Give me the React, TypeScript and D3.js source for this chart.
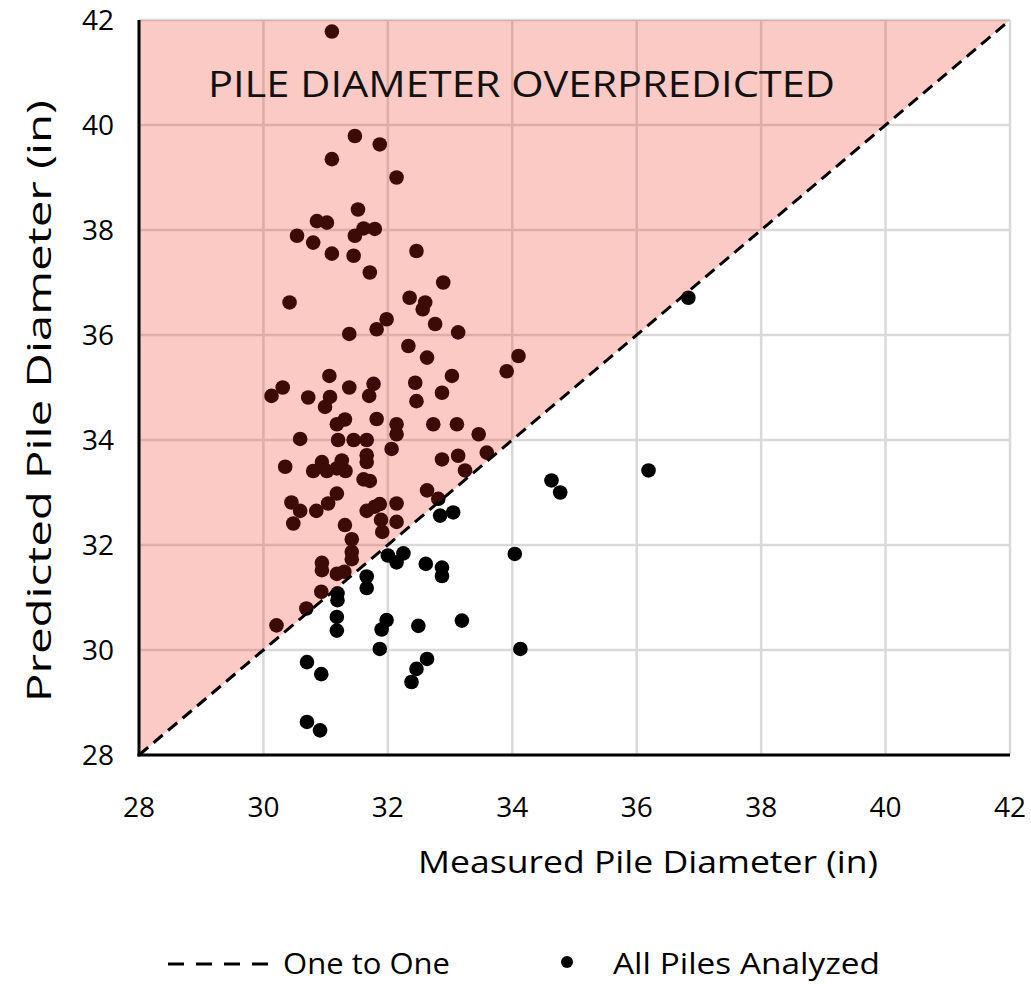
import React, { useEffect, useRef } from 'react';
import * as d3 from 'd3';

// measured pile diameter (in)
const measured = [
  31.1, 31.47, 31.87, 31.1, 32.14, 31.52, 30.86, 31.02, 31.61, 31.79,
  31.47, 30.54, 30.8, 31.1, 31.45, 32.46, 31.71, 30.42, 32.35, 32.6,
  32.56, 32.89, 31.98, 31.82, 31.38, 32.76, 33.13, 32.33, 32.63, 34.1,
  33.91, 31.06, 33.03, 30.31, 30.13, 30.72, 31.07, 30.99, 31.38, 31.77,
  31.7, 32.44, 32.46, 32.87, 31.82, 31.18, 31.31, 32.14, 32.14, 32.73,
  33.11, 33.46, 30.59, 31.2, 31.45, 31.66, 32.06, 31.66, 31.66, 30.35,
  30.94, 31.26, 30.8, 31.02, 31.18, 31.32, 32.87, 33.13, 33.59, 33.24,
  31.61, 31.71, 32.63, 31.18, 32.81, 30.45, 30.59, 30.48, 30.85, 31.04,
  31.66, 31.79, 31.87, 32.14, 31.89, 31.91, 32.14, 31.31, 31.42, 31.42,
  31.42, 30.94, 30.94, 31.18, 31.3, 30.93, 30.69, 30.21,
  36.83, 34.63, 34.77, 36.19, 32.84, 33.05, 32.0, 32.14, 32.25, 32.61,
  32.87, 32.87, 34.04, 31.66, 31.66, 31.19, 31.19, 31.18, 31.18, 31.98,
  31.9, 32.49, 33.19, 31.87, 34.13, 30.7, 30.93, 32.63, 32.46, 32.38,
  30.7, 30.91,
];

// predicted pile diameter (in), same order
const predicted = [
  41.78, 39.79, 39.63, 39.35, 39.0, 38.39, 38.17, 38.14, 38.03, 38.02,
  37.89, 37.89, 37.76, 37.55, 37.51, 37.6, 37.19, 36.62, 36.71, 36.62,
  36.49, 37.0, 36.3, 36.11, 36.02, 36.21, 36.05, 35.79, 35.57, 35.6,
  35.31, 35.22, 35.22, 35.0, 34.84, 34.81, 34.82, 34.63, 35.0, 35.07,
  34.84, 35.09, 34.74, 34.9, 34.4, 34.3, 34.39, 34.3, 34.11, 34.3,
  34.3, 34.11, 34.02, 34.0, 34.0, 34.0, 33.83, 33.71, 33.58, 33.49,
  33.58, 33.61, 33.41, 33.41, 33.46, 33.41, 33.63, 33.7, 33.76, 33.42,
  33.25, 33.22, 33.04, 32.98, 32.88, 32.81, 32.65, 32.41, 32.65, 32.79,
  32.65, 32.73, 32.78, 32.79, 32.48, 32.25, 32.44, 32.38, 32.11, 31.87,
  31.73, 31.66, 31.52, 31.45, 31.49, 31.11, 30.79, 30.47,
  36.71, 33.23, 33.0, 33.42, 32.56, 32.62, 31.8, 31.67, 31.84, 31.64,
  31.57, 31.41, 31.83, 31.4, 31.18, 31.08, 30.95, 30.63, 30.37, 30.57,
  30.39, 30.46, 30.56, 30.02, 30.02, 29.77, 29.54, 29.83, 29.64, 29.39,
  28.63, 28.47,
];

const axisTicks = [28, 30, 32, 34, 36, 38, 40, 42];
const oneToOne = [28, 42];

const font = "'Open Sans', 'Noto Sans', sans-serif";

export default function App() {
  const ref = useRef<SVGSVGElement>(null);

  useEffect(() => {
    const svg = d3.select(ref.current);
    svg.selectAll('*').remove();

    const left = 139;
    const right = 1010;
    const top = 20;
    const bottom = 755;

    const x = d3.scaleLinear().domain([28, 42]).range([left, right]);
    const y = d3.scaleLinear().domain([28, 42]).range([bottom, top]);

    svg.append('rect').attr('width', 1031).attr('height', 984).attr('fill', '#fff');

    // gridlines
    const grid = svg.append('g').attr('stroke', '#d9d9d9').attr('stroke-width', 2.5);
    axisTicks.forEach((t) => {
      grid.append('line').attr('x1', x(t)).attr('x2', x(t)).attr('y1', top).attr('y2', bottom);
      grid.append('line').attr('x1', left).attr('x2', right).attr('y1', y(t)).attr('y2', y(t));
    });

    // points
    svg
      .append('g')
      .selectAll('circle')
      .data(measured.map((m, i) => [m, predicted[i]]))
      .enter()
      .append('circle')
      .attr('cx', (d) => x(d[0]))
      .attr('cy', (d) => y(d[1]))
      .attr('r', 7.3)
      .attr('fill', '#000');

    // overpredicted zone, drawn over points and grid like the original
    const area = d3
      .line<number[]>()
      .x((d) => x(d[0]))
      .y((d) => y(d[1]));
    svg
      .append('path')
      .attr('d', area([[28, 28], [28, 42], [42, 42]]) + 'Z')
      .attr('fill', 'rgb(242,42,22)')
      .attr('fill-opacity', 0.25);

    // one to one line
    svg
      .append('line')
      .attr('x1', x(oneToOne[0]))
      .attr('y1', y(oneToOne[0]))
      .attr('x2', x(oneToOne[1]))
      .attr('y2', y(oneToOne[1]))
      .attr('stroke', '#000')
      .attr('stroke-width', 3)
      .attr('stroke-dasharray', '12,7');

    // axis lines
    svg.append('line').attr('x1', left).attr('x2', left).attr('y1', top).attr('y2', bottom + 1.5)
      .attr('stroke', '#000').attr('stroke-width', 3);
    svg.append('line').attr('x1', left - 1.5).attr('x2', right).attr('y1', bottom).attr('y2', bottom)
      .attr('stroke', '#000').attr('stroke-width', 3);

    // tick labels
    const tickStyle = (s: any) =>
      s.attr('font-family', font).attr('font-size', 28).attr('fill', '#000');
    axisTicks.forEach((t) => {
      tickStyle(svg.append('text'))
        .attr('x', x(t))
        .attr('y', bottom + 62)
        .attr('text-anchor', 'middle')
        .text(t);
      tickStyle(svg.append('text'))
        .attr('x', 114)
        .attr('y', y(t) + 10)
        .attr('text-anchor', 'end')
        .text(t);
    });

    // titles
    svg.append('text')
      .attr('x', 418).attr('y', 873)
      .attr('font-family', font).attr('font-size', 31)
      .attr('textLength', 460).attr('lengthAdjust', 'spacingAndGlyphs')
      .text('Measured Pile Diameter (in)');
    svg.append('text')
      .attr('transform', 'translate(51,702) rotate(-90)')
      .attr('font-family', font).attr('font-size', 33)
      .attr('textLength', 602).attr('lengthAdjust', 'spacingAndGlyphs')
      .text('Predicted Pile Diameter (in)');
    svg.append('text')
      .attr('x', 208).attr('y', 97)
      .attr('font-family', font).attr('font-size', 36)
      .attr('textLength', 627).attr('lengthAdjust', 'spacingAndGlyphs')
      .attr('fill', '#111')
      .text('PILE DIAMETER OVERPREDICTED');

    // legend
    const legY = 964;
    svg.append('line').attr('x1', 168).attr('x2', 268).attr('y1', legY).attr('y2', legY)
      .attr('stroke', '#000').attr('stroke-width', 3).attr('stroke-dasharray', '16,12');
    svg.append('text').attr('x', 283).attr('y', legY + 10)
      .attr('font-family', font).attr('font-size', 29)
      .attr('textLength', 167).attr('lengthAdjust', 'spacingAndGlyphs')
      .text('One to One');
    svg.append('circle').attr('cx', 567).attr('cy', legY - 2).attr('r', 6).attr('fill', '#000');
    svg.append('text').attr('x', 613).attr('y', legY + 10)
      .attr('font-family', font).attr('font-size', 29)
      .attr('textLength', 267).attr('lengthAdjust', 'spacingAndGlyphs')
      .text('All Piles Analyzed');
  }, []);

  return (
    <svg
      ref={ref}
      width={1031}
      height={984}
      style={{ position: 'absolute', left: 0, top: 0, display: 'block' }}
    />
  );
}
